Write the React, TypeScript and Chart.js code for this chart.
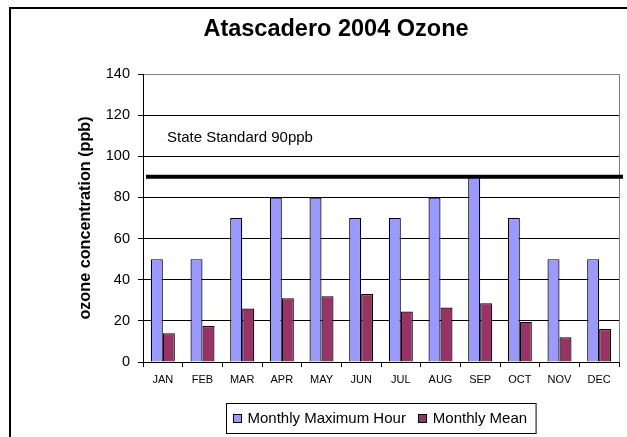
import React, { useEffect, useRef } from 'react';
import { Chart, registerables } from 'chart.js';

Chart.register(...registerables);

const FONT = "'Liberation Sans', Arial, Helvetica, sans-serif";

const titleText = 'Atascadero 2004 Ozone';
const yAxisTitle = 'ozone concentration (ppb)';
const months = ['JAN', 'FEB', 'MAR', 'APR', 'MAY', 'JUN', 'JUL', 'AUG', 'SEP', 'OCT', 'NOV', 'DEC'];
const seriesNames = ['Monthly Maximum Hour', 'Monthly Mean'];
const monthlyMaxHour = [50, 50, 70, 80, 80, 70, 70, 80, 90, 70, 50, 50];
const monthlyMean = [14, 17.5, 26, 31, 32, 33, 24.5, 26.5, 28.5, 19.5, 12, 16];
const yMin = 0;
const yMax = 140;
const yStep = 20;
const standardValue = 90;
const standardLabel = 'State Standard 90ppb';
const standardLabelValue = 109;

const seriesColors = ['#9999FF', '#993366'];

const framePlugin = {
  id: 'frame',
  beforeDraw(chart: any) {
    const ctx = chart.ctx;
    ctx.save();
    ctx.fillStyle = '#fff';
    ctx.fillRect(0, 0, chart.width, chart.height);
    ctx.strokeStyle = '#000';
    ctx.lineWidth = 2;
    ctx.strokeRect(10, 8, 1000, 1000);
    ctx.restore();
  },
};

const standardPlugin = {
  id: 'standard',
  afterDatasetsDraw(chart: any) {
    const { ctx, chartArea, scales } = chart;
    const y = scales.y;
    ctx.save();
    ctx.strokeStyle = '#808080';
    ctx.lineWidth = 1;
    ctx.beginPath();
    ctx.moveTo(chartArea.right + 0.5, chartArea.top);
    ctx.lineTo(chartArea.right + 0.5, chartArea.bottom);
    ctx.stroke();
    const py = y.getPixelForValue(standardValue);
    ctx.strokeStyle = '#000';
    ctx.lineWidth = 4;
    ctx.beginPath();
    ctx.moveTo(chartArea.left + 3, py);
    ctx.lineTo(chartArea.right + 4, py);
    ctx.stroke();
    ctx.fillStyle = '#000';
    ctx.font = `15px ${FONT}`;
    ctx.textBaseline = 'middle';
    ctx.textAlign = 'left';
    ctx.fillText(standardLabel, chartArea.left + 24, y.getPixelForValue(standardLabelValue));
    ctx.restore();
  },
};

const legendPlugin = {
  id: 'boxLegend',
  afterDraw(chart: any) {
    const { ctx, chartArea } = chart;
    ctx.save();
    ctx.font = `15px ${FONT}`;
    const sw = 9;
    const gapText = 6;
    const gapItem = 12;
    const padL = 6;
    const padR = 9;
    const widths = seriesNames.map((s) => ctx.measureText(s).width);
    const total = padL + widths.reduce((a, w) => a + sw + gapText + w, 0) + gapItem * (seriesNames.length - 1) + padR;
    const cx = (chartArea.left + chartArea.right) / 2;
    const left = Math.round(cx - total / 2) + 0.5;
    const top = 403.5;
    const h = 30;
    ctx.strokeStyle = '#000';
    ctx.lineWidth = 1;
    ctx.fillStyle = '#fff';
    ctx.fillRect(left, top, total, h);
    ctx.strokeRect(left, top, total, h);
    let x = left + padL;
    const midY = top + h / 2;
    seriesNames.forEach((name, i) => {
      ctx.fillStyle = seriesColors[i];
      ctx.fillRect(Math.round(x), Math.round(midY - sw / 2), sw, sw);
      ctx.strokeStyle = '#000';
      ctx.strokeRect(Math.round(x) + 0.5, Math.round(midY - sw / 2) + 0.5, sw - 1, sw - 1);
      x += sw + gapText;
      ctx.fillStyle = '#000';
      ctx.textBaseline = 'middle';
      ctx.textAlign = 'left';
      ctx.fillText(name, x, midY);
      x += widths[i] + gapItem;
    });
    ctx.restore();
  },
};

export default function App() {
  const canvasRef = useRef<HTMLCanvasElement | null>(null);

  useEffect(() => {
    if (!canvasRef.current) return;
    const chart = new Chart(canvasRef.current, {
      type: 'bar',
      data: {
        labels: months,
        datasets: [
          {
            label: seriesNames[0],
            data: monthlyMaxHour,
            backgroundColor: seriesColors[0],
            borderColor: '#000',
            borderWidth: 1.2,
            categoryPercentage: 0.605,
            barPercentage: 1,
          },
          {
            label: seriesNames[1],
            data: monthlyMean,
            backgroundColor: seriesColors[1],
            borderColor: '#000',
            borderWidth: 1.2,
            categoryPercentage: 0.605,
            barPercentage: 1,
          },
        ],
      },
      options: {
        responsive: false,
        animation: false,
        layout: { padding: { left: 53, right: 8, top: 0, bottom: 0 } },
        plugins: {
          legend: { display: false },
          tooltip: { enabled: false },
          title: {
            display: true,
            text: titleText,
            color: '#000',
            font: { family: FONT, size: 23.5, weight: 'bold' },
            padding: { top: 15, bottom: 30.8 },
          },
        },
        scales: {
          x: {
            offset: true,
            grid: {
              offset: true,
              drawOnChartArea: false,
              drawTicks: true,
              tickLength: 5,
              tickColor: '#000',
            },
            border: { color: '#000', width: 1 },
            ticks: {
              color: '#000',
              font: { family: FONT, size: 11 },
              padding: 6,
              maxRotation: 0,
              autoSkip: false,
            },
            afterFit(scale: any) {
              scale.height = 75;
            },
          },
          y: {
            min: yMin,
            max: yMax,
            ticks: {
              stepSize: yStep,
              color: '#000',
              font: { family: FONT, size: 14.5 },
              padding: 8,
            },
            grid: {
              color: (c: any) => (c.tick && c.tick.value === yMax ? '#808080' : '#000'),
              tickColor: '#000',
              tickLength: 5,
            },
            border: { color: '#000', width: 1 },
            title: {
              display: true,
              text: yAxisTitle,
              color: '#000',
              font: { family: FONT, size: 16.2, weight: 'bold' },
              padding: { top: 23, bottom: 0 },
            },
            afterFit(scale: any) {
              scale.width = 90;
            },
          },
        },
      },
      plugins: [framePlugin, standardPlugin, legendPlugin],
    });
    return () => chart.destroy();
  }, []);

  return (
    <div style={{ position: 'absolute', left: 0, top: 0, width: 627, height: 437 }}>
      <canvas ref={canvasRef} width={627} height={437} style={{ display: 'block' }} />
    </div>
  );
}
